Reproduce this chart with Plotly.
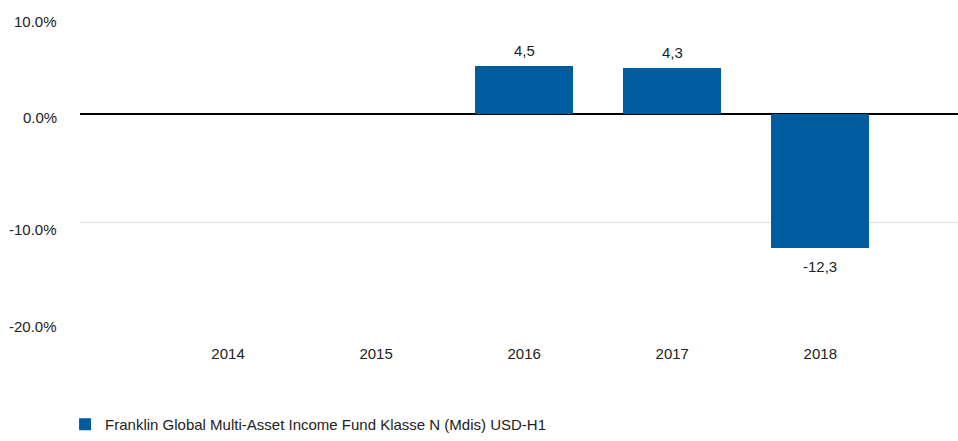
import plotly.graph_objects as go

years = ["2014", "2015", "2016", "2017", "2018"]
values = [None, None, 4.5, 4.3, -12.3]
labels = ["", "", "4,5", "4,3", "-12,3"]
series_name = "Franklin Global Multi-Asset Income Fund Klasse N (Mdis) USD-H1"
y_ticks = [-20, -10, 0, 10]
y_tick_text = ["-20.0%", "-10.0%", "0.0%", "10.0%"]

FONT = "Liberation Sans, Arial, sans-serif"
BLUE = "#005b9f"
TXT = "#222"
# per-label vertical nudges of the y-axis labels (style only)
y_label_shift = [5, -7, -3, -15]

fig = go.Figure()
fig.add_trace(go.Bar(
    x=list(range(len(years))), y=values, name=series_name,
    marker=dict(color=BLUE, line=dict(width=0)),
    width=0.66, showlegend=True, hoverinfo="y",
))

annotations = []
for i, (v, lab) in enumerate(zip(values, labels)):
    if v is None or not lab:
        continue
    annotations.append(dict(
        x=i, y=v, xref="x", yref="y", text=lab, showarrow=False,
        yanchor="bottom" if v >= 0 else "top",
        yshift=5 if v >= 0 else -8,
        font=dict(family=FONT, size=15, color=TXT),
    ))
for t, txt, s in zip(y_ticks, y_tick_text, y_label_shift):
    annotations.append(dict(
        x=0, y=t, xref="paper", yref="y", text=txt, showarrow=False,
        xanchor="right", yanchor="middle", xshift=-21, yshift=s,
        font=dict(family=FONT, size=15, color=TXT),
    ))

fig.update_layout(
    width=958, height=441,
    margin=dict(l=80, r=0, t=6, b=110),
    paper_bgcolor="white", plot_bgcolor="white",
    font=dict(family=FONT, size=15, color=TXT),
    bargap=0,
    annotations=annotations,
    xaxis=dict(
        range=[-1, 4.93], tickmode="array", tickvals=list(range(len(years))),
        ticktext=years, showgrid=False, zeroline=False, showline=False,
        ticks="", tickfont=dict(size=15, color=TXT), automargin=False,
        ticklabelstandoff=12,
    ),
    yaxis=dict(
        range=[-20, 10.001], tickmode="array", tickvals=y_ticks,
        showticklabels=False,
        showgrid=True, gridcolor="#dedede", gridwidth=1,
        zeroline=True, zerolinecolor="#000", zerolinewidth=1.5,
        showline=False, ticks="", automargin=False,
    ),
    legend=dict(
        orientation="h", x=-0.017, xanchor="left", y=0, yanchor="bottom",
        yref="container", font=dict(size=15, color=TXT),
        bgcolor="rgba(0,0,0,0)",
    ),
)

fig.write_html(
    "out.html",
    config={"displayModeBar": False},
    post_script="document.body.style.margin='0';document.body.style.overflow='hidden';",
)
